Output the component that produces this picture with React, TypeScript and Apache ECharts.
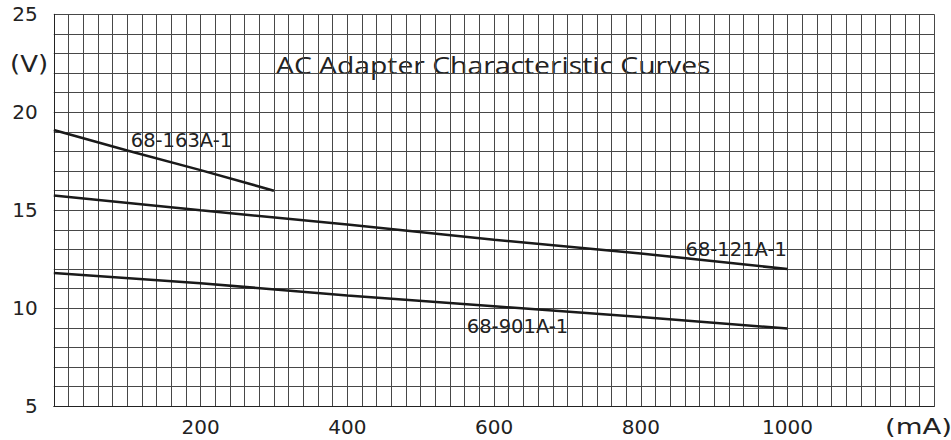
import React, { useEffect, useRef } from "react";
import * as echarts from "echarts";

// ---- data ----
const seriesNames = ["68-163A-1", "68-121A-1", "68-901A-1"];

const current163 = [0, 100, 200, 300];
const volt163 = [19.1, 18.05, 17.05, 16.0];

const current121 = [0, 200, 400, 600, 800, 1000];
const volt121 = [15.75, 15.0, 14.27, 13.5, 12.8, 12.0];

const current901 = [0, 200, 400, 600, 800, 1000];
const volt901 = [11.8, 11.28, 10.65, 10.1, 9.55, 8.97];

// label anchors (data coordinates: mA, V)
const labelCurrent = [174, 930, 632];
const labelVolt = [18.55, 13.0, 9.08];

const xTickLabels = [200, 400, 600, 800, 1000];
const yTickLabels = [5, 10, 15, 20, 25];

const titleText = "AC Adapter Characteristic Curves";
const xUnit = "(mA)";
const yUnit = "(V)";

const zip = (xs: number[], ys: number[]) => xs.map((x, i) => [x, ys[i]]);

export default function App() {
  const ref = useRef<HTMLDivElement>(null);

  useEffect(() => {
    if (!ref.current) return;
    const chart = echarts.init(ref.current, undefined, { renderer: "svg" });

    const curves = [
      zip(current163, volt163),
      zip(current121, volt121),
      zip(current901, volt901),
    ];

    const textColor = "#222";
    const font = "DejaVu Sans";
    const gridColor = "#474747";

    chart.setOption({
      animation: false,
      backgroundColor: "#ffffff",
      grid: {
        left: 53.8,
        top: 14.3,
        width: 880.5,
        height: 392,
        containLabel: false,
      },
      xAxis: {
        type: "value",
        min: 0,
        max: 1200,
        interval: 20,
        axisLine: { show: true, lineStyle: { color: "#222", width: 1 } },
        axisTick: { show: false },
        splitLine: { show: true, lineStyle: { color: gridColor, width: 1 } },
        axisLabel: {
          margin: 11,
          fontFamily: font,
          fontSize: 20,
          color: textColor,
          formatter: (v: number) => (xTickLabels.includes(v) ? String(v) : ""),
        },
      },
      yAxis: {
        type: "value",
        min: 5,
        max: 25,
        interval: 1,
        axisLine: { show: true, lineStyle: { color: "#222", width: 1 } },
        axisTick: { show: false },
        splitLine: { show: true, lineStyle: { color: gridColor, width: 1 } },
        axisLabel: {
          margin: 16,
          fontFamily: font,
          fontSize: 20,
          color: textColor,
          formatter: (v: number) => (yTickLabels.includes(v) ? String(v) : ""),
        },
      },
      series: curves.map((data, i) => ({
        type: "line",
        name: seriesNames[i],
        data,
        showSymbol: false,
        symbol: "none",
        lineStyle: { color: "#1a1a1a", width: 2.5 },
        markPoint: {
          symbol: "circle",
          symbolSize: 0,
          data: [
            {
              coord: [labelCurrent[i], labelVolt[i]],
              value: seriesNames[i],
            },
          ],
          label: {
            show: true,
            position: "inside",
            formatter: seriesNames[i],
            fontFamily: font,
            fontSize: 19.5,
            color: textColor,
          },
        },
      })),
      graphic: [
        {
          type: "text",
          x: 276,
          y: 53,
          scaleX: 1.18,
          style: {
            text: titleText,
            fontFamily: "Open Sans",
            fontSize: 24,
            fill: textColor,
            verticalAlign: "top",
          },
        },
        {
          type: "text",
          x: 10,
          y: 53,
          scaleX: 1.13,
          style: {
            text: yUnit,
            fontFamily: font,
            fontSize: 23,
            fill: textColor,
            verticalAlign: "top",
          },
        },
        {
          type: "text",
          x: 885,
          y: 415,
          scaleX: 1.25,
          style: {
            text: xUnit,
            fontFamily: font,
            fontSize: 22,
            fill: textColor,
            verticalAlign: "top",
          },
        },
      ],
    });

    return () => chart.dispose();
  }, []);

  return (
    <div
      ref={ref}
      style={{ position: "fixed", left: 0, top: 0, width: 951, height: 440 }}
    />
  );
}
